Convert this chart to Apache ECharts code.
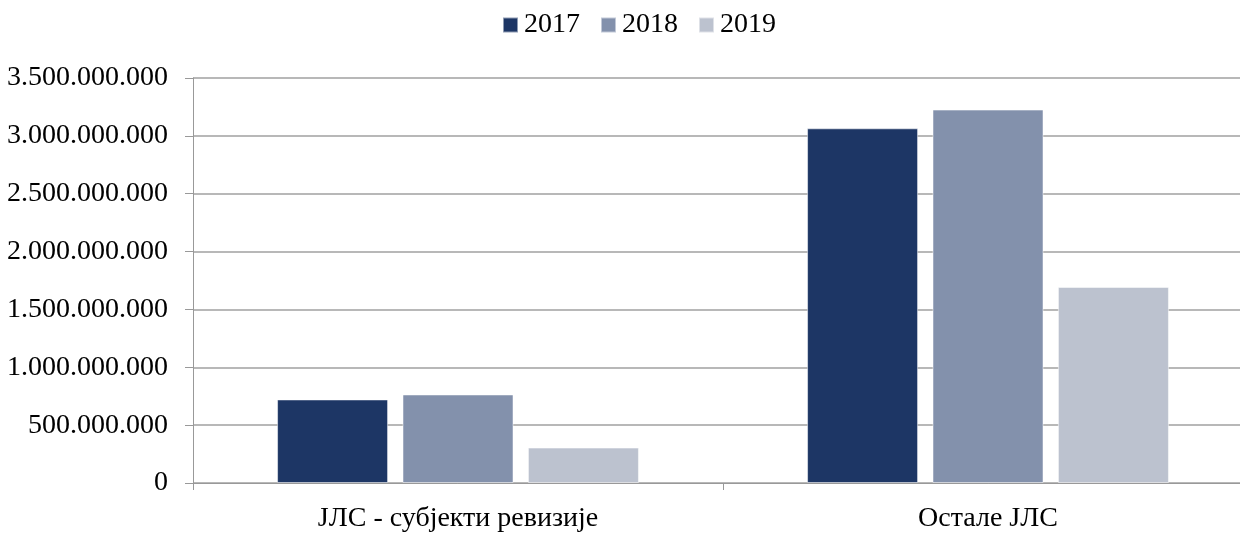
<!DOCTYPE html>
<html>
<head>
<meta charset="utf-8">
<script src="https://cdn.jsdelivr.net/npm/echarts@6/dist/echarts.min.js"></script>
<style>
  html, body { margin: 0; padding: 0; background: #fff; overflow: hidden; }
  #chart { width: 1253px; height: 533px; }
</style>
</head>
<body>
<div id="chart"></div>
<script>
const categories = ["ЈЛС - субјекти ревизије", "Остале ЈЛС"];
const years = ["2017", "2018", "2019"];
const values2017 = [722000000, 3065000000];
const values2018 = [765000000, 3227000000];
const values2019 = [306000000, 1694000000];
const colors = ["#1d3665", "#8391ac", "#bcc2cf"];

const fmt = (v) => String(v).replace(/\B(?=(\d{3})+(?!\d))/g, ".");
const font = "Liberation Serif";

const chart = echarts.init(document.getElementById("chart"));
const seriesData = [values2017, values2018, values2019];

chart.setOption({
    animation: false,
    textStyle: { fontFamily: font },
    legend: {
        data: years,
        left: 497,
        top: 6,
        itemWidth: 15,
        itemHeight: 15,
        itemGap: 20,
        icon: "rect",
        textStyle: { fontFamily: font, fontSize: 28, color: "#000", padding: [0, 0, 0, 1] },
    },
    grid: {
        left: 193,
        top: 78,
        width: 1060,
        height: 405,
        containLabel: false,
    },
    xAxis: {
        type: "category",
        data: categories,
        axisLine: { lineStyle: { color: "#999", width: 1 } },
        axisTick: { show: true, length: 7, lineStyle: { color: "#999" } },
        axisLabel: { fontFamily: font, fontSize: 28, color: "#000", margin: 22 },
    },
    yAxis: {
        type: "value",
        min: 0,
        max: 3500000000,
        interval: 500000000,
        axisLine: { show: true, lineStyle: { color: "#999", width: 1 } },
        axisTick: { show: true, length: 8, lineStyle: { color: "#999" } },
        splitLine: { lineStyle: { color: "#a0a0a0", width: 1.5 } },
        axisLabel: {
            fontFamily: font,
            fontSize: 28,
            color: "#000",
            margin: 25,
            formatter: fmt,
        },
    },
    series: years.map((y, i) => ({
        name: y,
        type: "bar",
        data: seriesData[i],
        barWidth: 111,
        barGap: "13%",
        itemStyle: { color: colors[i], borderColor: "rgba(255,255,255,0.5)", borderWidth: 1 },
    })),
});
</script>
</body>
</html>
